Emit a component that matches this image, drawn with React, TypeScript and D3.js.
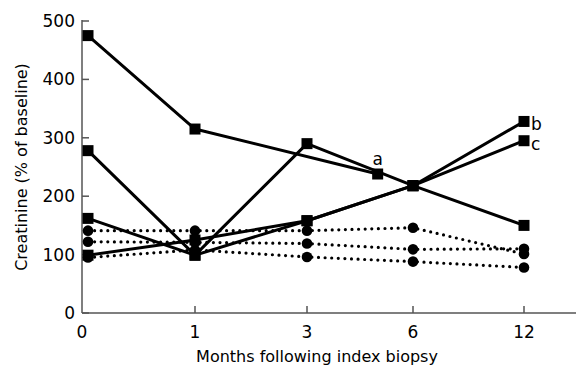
import * as d3 from 'd3';
import React from 'react';

// months on the x axis (not evenly spaced in value, evenly-ish on screen)
const months = [0, 1, 3, 6, 12];
const yTicks = [0, 100, 200, 300, 400, 500];

// solid lines with square markers
const aMonths = [0, 1, 5];
const aValues = [475, 315, 238];
const bValues = [278, 99, 290, 218, 150];
const cValues = [162, 99, 158, 218, 328];
const dValues = [99, 125, 158, 218, 295];

// dotted lines with round markers
const eValues = [141, 141, 141, 146, 101];
const fValues = [122, 121, 119, 109, 110];
const gValues = [95, 108, 96, 88, 78];

const notes = [
  { text: 'a', month: 5, value: 238 },
  { text: 'b', month: 12, value: 328 },
  { text: 'c', month: 12, value: 295 },
];

const font = 'DejaVu Sans, Verdana, sans-serif';

const App = () => {
  const width = 576;
  const height = 370;
  const axisX = 82;
  const axisY = 313;

  const x = d3.scaleLinear().domain(months).range([88, 195, 307, 413, 524]);
  const y = d3.scaleLinear().domain([0, 500]).range([axisY, 21]);

  const line = d3
    .line<[number, number]>()
    .x((d) => x(d[0]))
    .y((d) => y(d[1]));

  const solid: [number, number][][] = [
    aMonths.map((m, i) => [m, aValues[i]]),
    ...[bValues, cValues, dValues].map((vals) => months.map((m, i) => [m, vals[i]] as [number, number])),
  ];
  const dotted: [number, number][][] = [eValues, fValues, gValues].map((vals) =>
    months.map((m, i) => [m, vals[i]] as [number, number])
  );

  return (
    <svg width={width} height={height} style={{ position: 'absolute', left: 0, top: 0 }}>
      {/* axes */}
      <line x1={axisX} x2={axisX} y1={y(500) - 1} y2={axisY} stroke="#555" strokeWidth={1.5} />
      <line x1={axisX} x2={width} y1={axisY} y2={axisY} stroke="#555" strokeWidth={1.5} />
      {yTicks.map((t) => (
        <g key={t} transform={`translate(${axisX},${y(t)})`}>
          <line x1={0} x2={7} stroke="#555" strokeWidth={1.5} />
          <text x={-7} dy="0.35em" textAnchor="end" fontSize={17} fontFamily={font}>
            {t}
          </text>
        </g>
      ))}
      {months.map((m) => (
        <g key={m} transform={`translate(${m === 0 ? axisX : x(m)},${axisY})`}>
          {m !== 0 && <line y1={0} y2={-7} stroke="#555" strokeWidth={1.5} />}
          <text y={25} textAnchor="middle" fontSize={17} fontFamily={font}>
            {m}
          </text>
        </g>
      ))}
      <text x={317} y={362} textAnchor="middle" fontSize={16} fontFamily={font}>
        Months following index biopsy
      </text>
      <text
        transform={`translate(21,${(y(0) + y(500)) / 2}) rotate(-90)`}
        textAnchor="middle"
        dy="0.35em"
        fontSize={16}
        fontFamily={font}
      >
        Creatinine (% of baseline)
      </text>

      {/* dotted series */}
      {dotted.map((pts, i) => (
        <g key={'d' + i}>
          <path
            d={line(pts) || ''}
            fill="none"
            stroke="#000"
            strokeWidth={3.2}
            strokeLinecap="round"
            strokeDasharray="0 6.6"
          />
          {pts.map((p, j) => (
            <circle key={j} cx={x(p[0])} cy={y(p[1])} r={5.3} fill="#000" />
          ))}
        </g>
      ))}

      {/* solid series */}
      {solid.map((pts, i) => (
        <g key={'s' + i}>
          <path d={line(pts) || ''} fill="none" stroke="#000" strokeWidth={3} strokeLinejoin="round" />
          {pts.map((p, j) => (
            <rect key={j} x={x(p[0]) - 5.5} y={y(p[1]) - 5.5} width={11} height={11} fill="#000" />
          ))}
        </g>
      ))}

      {notes.map((n) => (
        <text
          key={n.text}
          x={n.text === 'a' ? x(n.month) : x(n.month) + 7}
          y={n.text === 'a' ? y(n.value) - 15 : y(n.value) + 3}
          dy="0.35em"
          textAnchor={n.text === 'a' ? 'middle' : 'start'}
          fontSize={17}
          fontFamily={font}
        >
          {n.text}
        </text>
      ))}
    </svg>
  );
};

export default App;
